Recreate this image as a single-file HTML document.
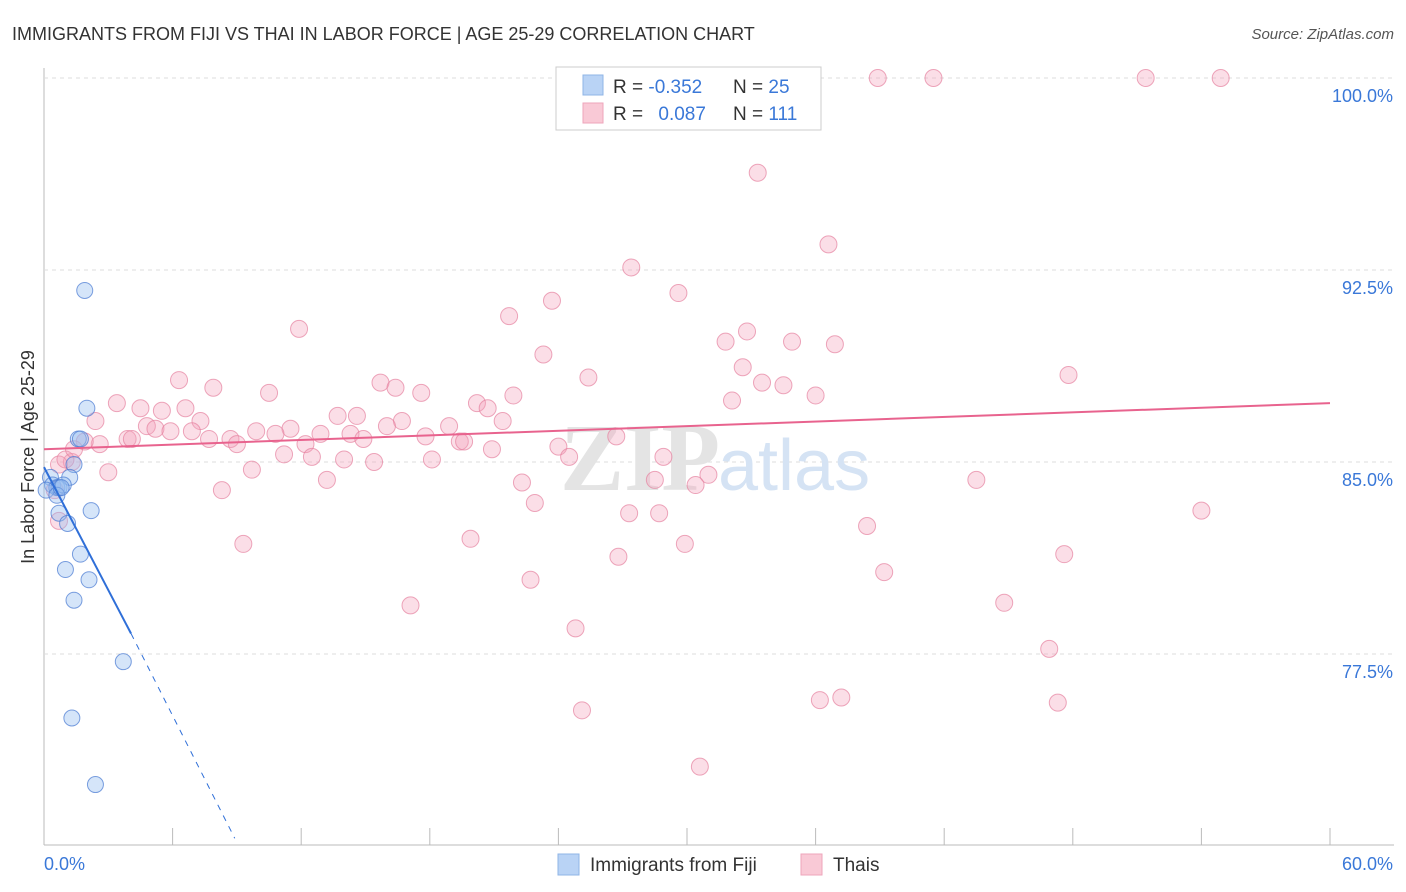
<!DOCTYPE html>
<html><head><meta charset="utf-8"><style>
body{margin:0;background:#fff;font-family:"Liberation Sans",sans-serif}
svg{display:block}
</style></head><body>
<svg id="c" width="1406" height="892" xmlns="http://www.w3.org/2000/svg">
<text x="12" y="40" font-size="18" fill="#333">IMMIGRANTS FROM FIJI VS THAI IN LABOR FORCE | AGE 25-29 CORRELATION CHART</text>
<text x="1394" y="39" font-size="15" fill="#555" font-style="italic" text-anchor="end">Source: ZipAtlas.com</text>
<text x="34" y="457" font-size="18" fill="#333" text-anchor="middle" transform="rotate(-90 34 457)">In Labor Force | Age 25-29</text>
<g id="grid"></g>
<text x="720" y="490" font-size="96" font-weight="bold" fill="#e4e4e4" text-anchor="end" font-family="Liberation Serif,serif">ZIP</text>
<text x="718" y="490" font-size="72" fill="#d5e3f4">atlas</text>
<g id="pts"></g>
<g id="lines"></g>
<g>
<rect x="556" y="67" width="265" height="63" fill="#fff" stroke="#ccc"/>
<rect x="583" y="75" width="20" height="20" fill="#b9d3f5" stroke="#8fb4e6"/>
<rect x="583" y="103" width="20" height="20" fill="#f9c9d6" stroke="#eea5bb"/>
<text x="613" y="93" font-size="19" fill="#333">R = <tspan fill="#3a78d8">-0.352</tspan></text>
<text x="733" y="93" font-size="19" fill="#333">N = <tspan fill="#3a78d8">25</tspan></text>
<text x="613" y="120" font-size="19" fill="#333">R = <tspan fill="#3a78d8" dx="10">0.087</tspan></text>
<text x="733" y="120" font-size="19" fill="#333">N = <tspan fill="#3a78d8">111</tspan></text>
</g>
<g>
<rect x="558" y="854" width="21" height="21" fill="#b9d3f5" stroke="#8fb4e6"/>
<text x="590" y="871" font-size="19" fill="#333">Immigrants from Fiji</text>
<rect x="801" y="854" width="21" height="21" fill="#f9c9d6" stroke="#eea5bb"/>
<text x="833" y="871" font-size="19" fill="#333">Thais</text>
</g>
</svg>
<script>
const yTicks=[77.5,85,92.5,100];
const yTickLabels=["77.5%","85.0%","92.5%","100.0%"];
const xTicks=[0,6,12,18,24,30,36,42,48,54,60];
const xEndLabels=["0.0%","60.0%"];
const fijiX=[1.9,2.0,1.6,1.7,1.4,1.2,0.3,0.4,0.6,0.7,0.9,0.1,0.6,2.2,0.7,1.1,1.7,1.0,2.1,1.4,3.7,1.3,2.4,25.7,0.8];
const fijiY=[91.7,87.1,85.9,85.9,84.9,84.4,84.4,84.1,84.0,84.0,84.1,83.9,83.7,83.1,83.0,82.6,81.4,80.8,80.4,79.6,77.2,75.0,72.4,100,84.0];
const thaiX=[38.9,41.5,51.4,54.9,33.3,36.6,27.4,29.6,23.7,21.7,11.9,32.8,31.8,34.9,36.9,23.3,32.6,47.8,25.4,6.3,15.7,33.5,34.5,7.9,16.4,10.5,17.6,21.9,36.0,32.1,3.4,20.2,4.5,6.6,5.5,20.7,13.7,14.6,7.3,21.4,2.4,16.7,16.0,18.9,4.8,5.2,11.5,9.9,5.9,6.9,10.8,12.9,14.3,14.9,17.8,26.7,3.9,7.7,8.7,19.4,19.6,9.0,4.1,2.6,12.2,24.0,1.9,20.9,11.2,12.5,14.0,24.5,28.9,18.1,15.4,1.3,9.7,3.0,31.0,43.5,13.2,22.3,28.5,30.4,8.3,22.9,54.0,28.7,27.3,38.4,19.9,29.9,9.3,47.6,26.8,39.2,22.7,44.8,17.1,24.8,46.9,36.2,37.2,47.3,25.1,30.6,0.7,0.7,0.5,1.0,1.4];
const thaiY=[100,100,100,100,96.3,93.5,92.6,91.6,91.3,90.7,90.2,90.1,89.7,89.7,89.6,89.2,88.7,88.4,88.3,88.2,88.1,88.1,88.0,87.9,87.9,87.7,87.7,87.6,87.6,87.4,87.3,87.3,87.1,87.1,87.0,87.1,86.8,86.8,86.6,86.6,86.6,86.6,86.4,86.4,86.4,86.3,86.3,86.2,86.2,86.2,86.1,86.1,86.1,85.9,86.0,86.0,85.9,85.9,85.9,85.8,85.8,85.7,85.9,85.7,85.7,85.6,85.8,85.5,85.3,85.2,85.1,85.2,85.2,85.1,85.0,85.0,84.7,84.6,84.5,84.3,84.3,84.2,84.3,84.1,83.9,83.4,83.1,83.0,83.0,82.5,82.0,81.8,81.8,81.4,81.3,80.7,80.4,79.5,79.4,78.5,77.7,75.7,75.8,75.6,75.3,73.1,82.7,84.9,83.9,85.1,85.5];
const fijiTrend=[[0,84.8],[4.06,78.3],[8.9,70.3]];
const thaiTrend=[[0,85.5],[60,87.3]];
const X=v=>44+v*(1286/60), Y=v=>78+(100-v)*25.6;
const NS="http://www.w3.org/2000/svg";
function mk(t,a,p){const e=document.createElementNS(NS,t);for(const k in a)e.setAttribute(k,a[k]);p.appendChild(e);return e;}
const grid=document.getElementById('grid');
const ax=mk('line',{x1:44,y1:68,x2:44,y2:845,stroke:'#bbb'},grid);


const bx=mk('line',{x1:44,y1:845,x2:1394,y2:845,stroke:'#bbb'},grid);


yTicks.forEach((v,i)=>{
 const g=mk('line',{x1:44,x2:1394,y1:Y(v),y2:Y(v),stroke:'#ddd','stroke-dasharray':'4,4'},grid);
 
 
 const t=mk('text',{x:1393,y:Y(v)+24,'font-size':18,fill:'#3a78d8','text-anchor':'end'},grid);
 t.textContent=yTickLabels[i];
 
 
});
xTicks.forEach(v=>{
 const l=mk('line',{x1:X(v),x2:X(v),y1:828,y2:845,stroke:'#bbb'},grid);
 
 
});
const t0=mk('text',{x:44,y:870,'font-size':18,fill:'#3a78d8'},grid);t0.textContent=xEndLabels[0];


const t1=mk('text',{x:1393,y:870,'font-size':18,fill:'#3a78d8','text-anchor':'end'},grid);t1.textContent=xEndLabels[1];


const pts=document.getElementById('pts');
thaiX.forEach((x,i)=>{
 const c=mk('circle',{cx:X(x),cy:Y(thaiY[i]),r:8.5,fill:'rgba(244,160,185,0.35)',stroke:'rgba(230,130,160,0.7)','stroke-width':1},pts);
 
 
});
fijiX.forEach((x,i)=>{
 const c=mk('circle',{cx:X(x),cy:Y(fijiY[i]),r:8,fill:'rgba(150,190,240,0.4)',stroke:'rgba(70,120,210,0.7)','stroke-width':1},pts);
 
 
});
const lines=document.getElementById('lines');
const fl=mk('line',{x1:X(fijiTrend[0][0]),y1:Y(fijiTrend[0][1]),x2:X(fijiTrend[1][0]),y2:Y(fijiTrend[1][1]),stroke:'#2f6fd8','stroke-width':2},lines);


const fd=mk('line',{x1:X(fijiTrend[1][0]),y1:Y(fijiTrend[1][1]),x2:X(fijiTrend[2][0]),y2:Y(fijiTrend[2][1]),stroke:'#2f6fd8','stroke-width':1,'stroke-dasharray':'6,6'},lines);


const tl=mk('line',{x1:X(thaiTrend[0][0]),y1:Y(thaiTrend[0][1]),x2:X(thaiTrend[1][0]),y2:Y(thaiTrend[1][1]),stroke:'#e8638e','stroke-width':2},lines);


</script>
</body></html>
